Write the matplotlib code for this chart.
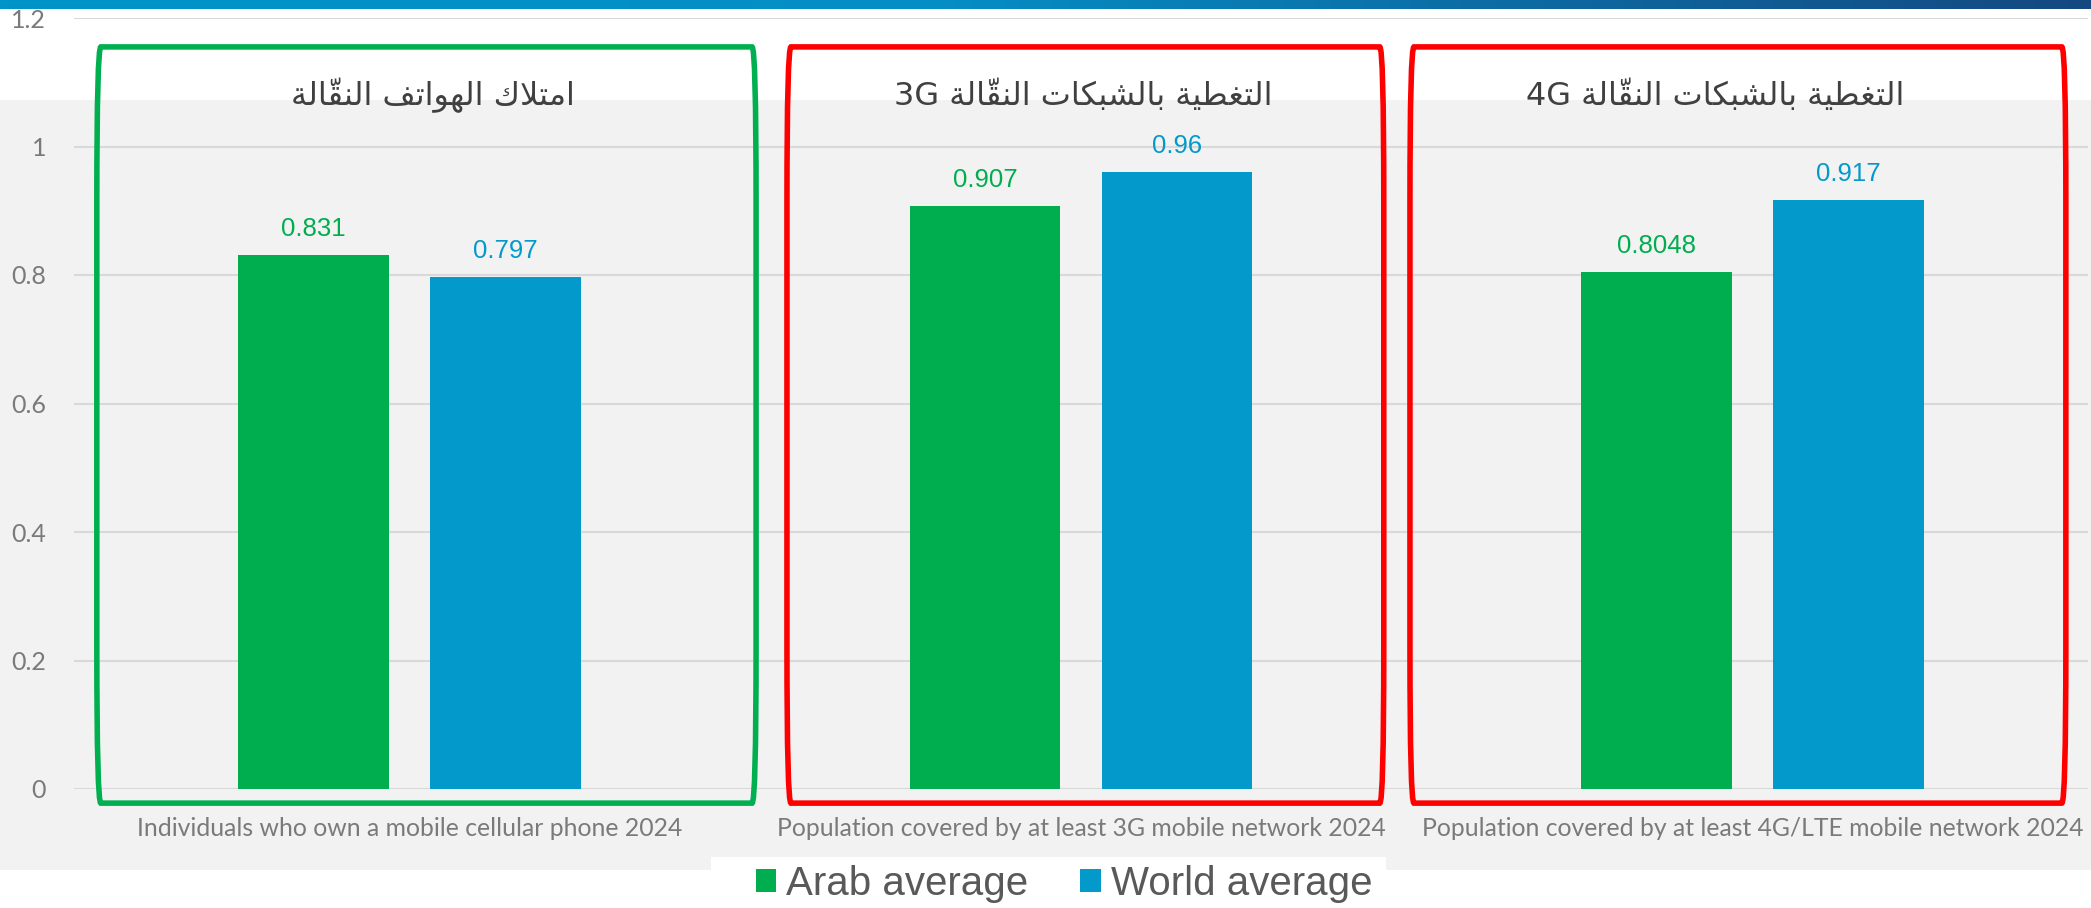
import numpy as np
import matplotlib
matplotlib.use('Agg')
import matplotlib.pyplot as plt
from matplotlib.patches import Rectangle, FancyBboxPatch, Patch
from matplotlib.colors import LinearSegmentedColormap

categories = ['Individuals who own a mobile cellular phone 2024',
              'Population covered by at least 3G mobile network 2024',
              'Population covered by at least 4G/LTE mobile network 2024']
arab = [0.831, 0.907, 0.8048]
world = [0.797, 0.96, 0.917]
titles = ['امتلاك الهواتف النقّالة',
          'التغطية بالشبكات النقّالة 3G',
          'التغطية بالشبكات النقّالة 4G']
series_names = ['Arab average', 'World average']
yticks = [0, 0.2, 0.4, 0.6, 0.8, 1, 1.2]

GREEN = '#00ad4f'
BLUE = '#0399cb'

# --- tiny arabic shaper (matplotlib has no shaping / bidi) ---
FORMS = {
    'ا': ('\uFE8D', '\uFE8E', None, None),
    'ب': ('\uFE8F', '\uFE90', '\uFE91', '\uFE92'),
    'ة': ('\uFE93', '\uFE94', None, None),
    'ت': ('\uFE95', '\uFE96', '\uFE97', '\uFE98'),
    'ش': ('\uFEB5', '\uFEB6', '\uFEB7', '\uFEB8'),
    'ط': ('\uFEC1', '\uFEC2', '\uFEC3', '\uFEC4'),
    'غ': ('\uFECD', '\uFECE', '\uFECF', '\uFED0'),
    'ف': ('\uFED1', '\uFED2', '\uFED3', '\uFED4'),
    'ق': ('\uFED5', '\uFED6', '\uFED7', '\uFED8'),
    'ك': ('\uFED9', '\uFEDA', '\uFEDB', '\uFEDC'),
    'ل': ('\uFEDD', '\uFEDE', '\uFEDF', '\uFEE0'),
    'م': ('\uFEE1', '\uFEE2', '\uFEE3', '\uFEE4'),
    'ن': ('\uFEE5', '\uFEE6', '\uFEE7', '\uFEE8'),
    'ه': ('\uFEE9', '\uFEEA', '\uFEEB', '\uFEEC'),
    'و': ('\uFEED', '\uFEEE', None, None),
    'ي': ('\uFEF1', '\uFEF2', '\uFEF3', '\uFEF4'),
}
MARKS = {'\u0651'}


def shape_word(word):
    n = len(word)

    def neighbour(i, step):
        j = i + step
        while 0 <= j < n and word[j] in MARKS:
            j += step
        return word[j] if 0 <= j < n else None

    clusters = []
    i = 0
    while i < n:
        c = word[i]
        if c in MARKS:
            # put the mark in front of its base so it lands over it when drawn LTR
            clusters[-1].insert(0, c)
            i += 1
            continue
        if c not in FORMS:
            clusters.append([c])
            i += 1
            continue
        p = neighbour(i, -1)
        joins_prev = p in FORMS and FORMS[p][2] is not None
        nx = neighbour(i, 1)
        if c == 'ل' and nx == 'ا':
            clusters.append(['\uFEFC' if joins_prev else '\uFEFB'])
            j = i + 1
            while word[j] != 'ا':
                clusters[-1].insert(0, word[j])
                j += 1
            i = j + 1
            continue
        iso, fin, ini, med = FORMS[c]
        joins_next = ini is not None and nx in FORMS
        if joins_prev and joins_next:
            g = med
        elif joins_prev:
            g = fin
        elif joins_next:
            g = ini
        else:
            g = iso
        clusters.append([g])
        i += 1
    return ''.join(''.join(cl) for cl in clusters[::-1])


def visual(text):
    out = []
    for w in text.split(' ')[::-1]:
        if any(ch in FORMS for ch in w):
            out.append(shape_word(w))
        else:
            out.append(w)
    return ' '.join(out)


W, H = 2091, 908
fig = plt.figure(figsize=(W / 100, H / 100), dpi=100)
fig.patch.set_facecolor('white')

# grey background panel + white legend box
fig.add_artist(Rectangle((0, 1 - 870 / H), 1, 770 / H, transform=fig.transFigure,
                         facecolor='#f2f2f2', edgecolor='none', zorder=-10))
fig.add_artist(Rectangle((711 / W, 0), 675 / W, 51 / H, transform=fig.transFigure,
                         facecolor='white', edgecolor='none', zorder=-9))

# gradient strip on top
gax = fig.add_axes([0, 1 - 9 / H, 1, 9 / H])
cmap = LinearSegmentedColormap.from_list('band', [(0, '#0094c9'), (0.45, '#058ec5'), (1, '#154880')])
gax.imshow(np.linspace(0, 1, 512)[None, :], aspect='auto', cmap=cmap)
gax.axis('off')

ax = fig.add_axes([74 / W, 119 / H, 2014 / W, 771 / H])
ax.patch.set_alpha(0)
x = np.arange(len(categories))
bw = 0.2245
off = 0.143
b1 = ax.bar(x - off, arab, bw, color=GREEN, zorder=3, label=series_names[0])
b2 = ax.bar(x + off, world, bw, color=BLUE, zorder=3, label=series_names[1])

for bars, vals, col in [(b1, arab, GREEN), (b2, world, BLUE)]:
    for r, v in zip(bars, vals):
        ax.annotate(str(v), (r.get_x() + r.get_width() / 2, v), xytext=(0, 10),
                    textcoords='offset points', ha='center', va='bottom',
                    fontsize=18.5, color=col, family='Liberation Sans', zorder=5)

ax.set_xlim(-0.5, 2.5)
ax.set_ylim(0, 1.2)
ax.set_yticks(yticks)
ax.set_yticklabels([f'{v:g}' for v in yticks])
ax.set_xticks(x)
ax.set_xticklabels(categories)
ax.grid(axis='y', color='#d9d9d9', lw=1.5, zorder=0)
ax.set_axisbelow(True)
for s in ax.spines.values():
    s.set_visible(False)
ax.tick_params(length=0)
ax.tick_params(axis='y', pad=20, labelsize=18, labelcolor='#7a7a7a')
ax.tick_params(axis='x', pad=20, labelsize=17.8, labelcolor='#7a7a7a')
for lab in ax.get_xticklabels() + ax.get_yticklabels():
    lab.set_family('Lato')

# highlight boxes around each group
box_spans = [(-0.466, 0.516, '#00b050'), (0.562, 1.451, '#ff0000'), (1.490, 2.467, '#ff0000')]
for (l, r, col) in box_spans:
    ax.add_patch(FancyBboxPatch((l, -0.022), r - l, 1.177, boxstyle='round,pad=0,rounding_size=0.006',
                                fill=False, edgecolor=col, lw=4, clip_on=False, zorder=4,
                                mutation_aspect=40))

title_x = [0.034, 1.003, 1.945]
for tx, t in zip(title_x, titles):
    ax.text(tx, 1.079, visual(t), ha='center', va='center', fontsize=23,
            color='#404040', family='DejaVu Sans', zorder=5)

handles = [Patch(facecolor=GREEN), Patch(facecolor=BLUE)]
fig.legend(handles, series_names, loc='center', bbox_to_anchor=(1064 / W, 1 - 884 / H),
           ncol=2, frameon=False, handlelength=0.5, handleheight=0.5,
           handletextpad=0.25, columnspacing=1.3, labelcolor='#595959',
           prop={'family': 'Liberation Sans', 'size': 29})

fig.savefig('out.png', dpi=100)
